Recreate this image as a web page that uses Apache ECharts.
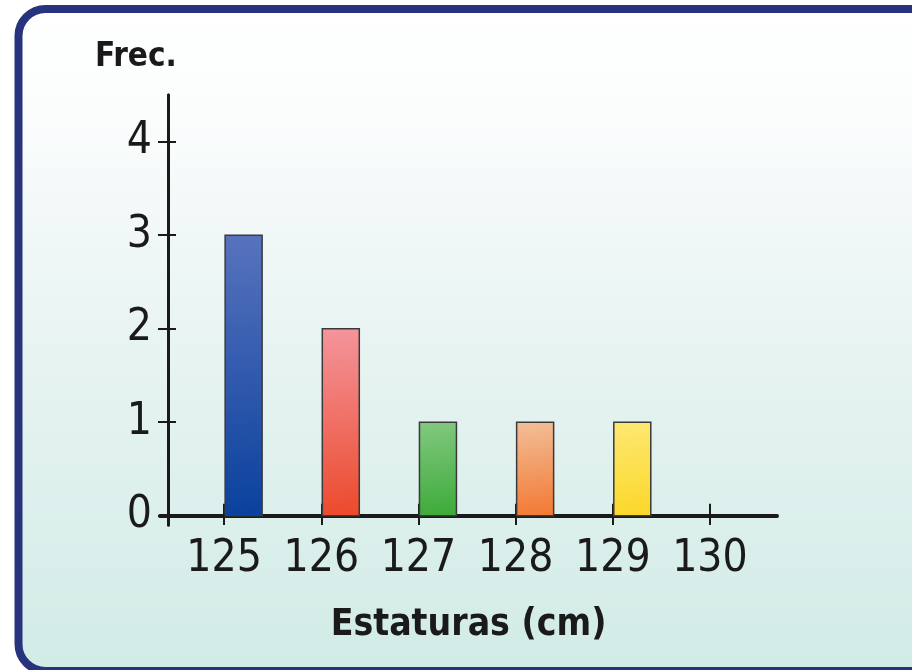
<!DOCTYPE html>
<html>
<head>
<meta charset="utf-8">
<script src="https://cdn.jsdelivr.net/npm/echarts@6/dist/echarts.min.js"></script>
<style>
  html, body { margin: 0; padding: 0; background: #ffffff; overflow: hidden; }
  #chart { width: 912px; height: 670px; }
</style>
</head>
<body>
<div id="chart"></div>
<script>
  // heights (cm) and how many pupils have each one
  var estaturas = [125, 126, 127, 128, 129, 130];
  var frecuencias = [3, 2, 1, 1, 1, 0];
  var yTicks = [0, 1, 2, 3, 4];

  // top / bottom colour of each bar
  var barColors = [
    ['#5873bd', '#0a419d'],
    ['#f4959d', '#ec4a2c'],
    ['#83c981', '#3eab3a'],
    ['#f3bf98', '#f27a36'],
    ['#fde873', '#fcd82a'],
    ['#cccccc', '#999999']
  ];

  var FONT = '"Liberation Sans Narrow", "DejaVu Sans Condensed", "Liberation Sans", sans-serif';
  var INK = '#1a1a1a';

  var chart = echarts.init(document.getElementById('chart'));

  // bars start at the tick and go to the right, like in the book
  function renderBar(params, api) {
    var x = api.value(0);
    var y = api.value(1);
    if (!y) return;
    var base = api.coord([x, 0]);
    var top = api.coord([x, y]);
    var c = barColors[params.dataIndex];
    return {
      type: 'rect',
      shape: { x: base[0] + 1, y: top[1], width: 37, height: base[1] - top[1] },
      style: {
        fill: new echarts.graphic.LinearGradient(0, 0, 0.3, 1, [
          { offset: 0, color: c[0] },
          { offset: 1, color: c[1] }
        ]),
        stroke: '#3a3a3a',
        lineWidth: 1.5
      }
    };
  }

  var pairs = estaturas.map(function (e, i) { return [e, frecuencias[i]]; });

  var xMin = 124.34, xMax = 130.69;
  var yMin = -0.1, yMax = 4.5;

  var option = {
    animation: false,
    graphic: [{
      type: 'rect',
      z: -100,
      shape: { x: 18.5, y: 9, width: 920, height: 662, r: 27 },
      style: {
        fill: new echarts.graphic.LinearGradient(0, 0, 0, 1, [
          { offset: 0, color: '#ffffff' },
          { offset: 0.15, color: '#fbfdfd' },
          { offset: 0.5, color: '#e8f4f2' },
          { offset: 1, color: '#d1ebe6' }
        ]),
        stroke: '#27337d',
        lineWidth: 8
      }
    }],
    title: {
      text: 'Frec.',
      left: 90,
      top: 36,
      textStyle: { fontFamily: FONT, fontSize: 33, fontWeight: 'bold', color: INK }
    },
    grid: { left: 160, right: 135, top: 95, bottom: 145 },
    xAxis: [{
      type: 'value',
      position: 'bottom',
      min: xMin, max: xMax,
      name: 'Estaturas (cm)',
      nameLocation: 'middle',
      nameGap: 82,
      nameTextStyle: { fontFamily: FONT, fontSize: 37, fontWeight: 'bold', color: INK },
      splitLine: { show: false },
      axisLine: { show: true, onZero: true, lineStyle: { color: INK, width: 4 } },
      axisTick: { show: true, customValues: estaturas, inside: true, length: 12, lineStyle: { color: INK, width: 2 } },
      axisLabel: { customValues: estaturas, margin: 13, fontFamily: FONT, fontSize: 44, color: INK }
    }, {
      // sits at the grid bottom, just under the zero line; its ticks give the lower half of the "+"
      type: 'value',
      position: 'bottom',
      min: xMin, max: xMax,
      splitLine: { show: false },
      axisLine: { show: true, onZero: false, lineStyle: { color: INK, width: 1, opacity: 0 } },
      axisTick: { show: true, customValues: estaturas, inside: true, length: 16, lineStyle: { color: INK, width: 2 } },
      axisLabel: { show: false }
    }],
    yAxis: [{
      type: 'value',
      position: 'left',
      min: yMin, max: yMax,
      offset: -8,
      splitLine: { show: false },
      axisLine: { show: true, lineStyle: { color: INK, width: 3 } },
      axisTick: { show: true, customValues: yTicks, inside: true, length: 8, lineStyle: { color: INK, width: 2 } },
      axisLabel: { customValues: yTicks, margin: 16, fontFamily: FONT, fontSize: 44, color: INK }
    }, {
      // second copy with outside ticks for the left half of the "+"
      type: 'value',
      position: 'left',
      min: yMin, max: yMax,
      offset: -8,
      splitLine: { show: false },
      axisLine: { show: true, lineStyle: { color: INK, width: 3 } },
      axisTick: { show: true, customValues: yTicks, inside: false, length: 10, lineStyle: { color: INK, width: 2 } },
      axisLabel: { show: false }
    }],
    series: [{
      type: 'custom',
      xAxisIndex: 0,
      yAxisIndex: 0,
      renderItem: renderBar,
      data: pairs
    }, {
      // same data on the second pair of axes so they are not blank; draws nothing
      type: 'custom',
      xAxisIndex: 1,
      yAxisIndex: 1,
      silent: true,
      renderItem: function () { return null; },
      data: pairs
    }]
  };

  option && chart.setOption(option);
</script>
</body>
</html>
